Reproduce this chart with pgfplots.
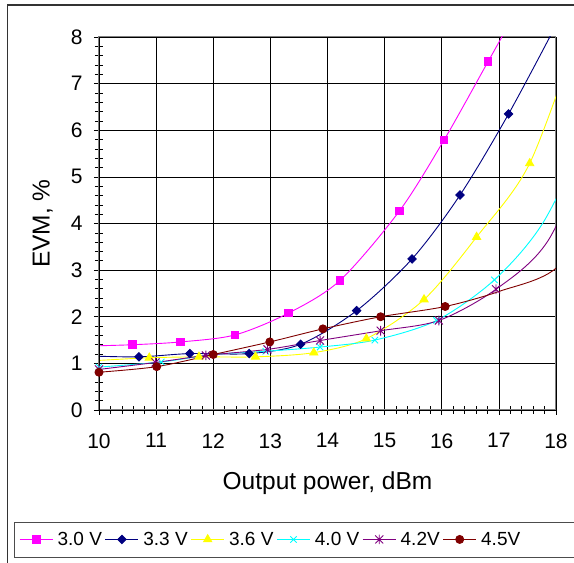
\documentclass[border=0pt]{standalone}
\usepackage{fontspec}
\setmainfont{Liberation Sans}
\usepackage{pgfplots}
\pgfplotsset{compat=1.18}
\definecolor{cA}{RGB}{255,0,255}
\definecolor{cB}{RGB}{0,0,128}
\definecolor{cC}{RGB}{255,255,0}
\definecolor{cD}{RGB}{0,255,255}
\definecolor{cE}{RGB}{128,0,128}
\definecolor{cF}{RGB}{128,0,0}
\pgfdeclareplotmark{xstar}{%
 \pgfpathmoveto{\pgfqpoint{-\pgfplotmarksize}{-\pgfplotmarksize}}\pgfpathlineto{\pgfqpoint{\pgfplotmarksize}{\pgfplotmarksize}}%
 \pgfpathmoveto{\pgfqpoint{-\pgfplotmarksize}{\pgfplotmarksize}}\pgfpathlineto{\pgfqpoint{\pgfplotmarksize}{-\pgfplotmarksize}}%
 \pgfpathmoveto{\pgfqpoint{0pt}{-1.2\pgfplotmarksize}}\pgfpathlineto{\pgfqpoint{0pt}{1.2\pgfplotmarksize}}%
 \pgfusepathqstroke}
\pgfdeclareplotmark{sqdiamond}{%
 \pgfpathmoveto{\pgfqpoint{0pt}{\pgfplotmarksize}}%
 \pgfpathlineto{\pgfqpoint{\pgfplotmarksize}{0pt}}%
 \pgfpathlineto{\pgfqpoint{0pt}{-\pgfplotmarksize}}%
 \pgfpathlineto{\pgfqpoint{-\pgfplotmarksize}{0pt}}%
 \pgfpathclose
 \pgfusepathqfillstroke}
\begin{document}
\begin{tikzpicture}
\useasboundingbox (0,0) rectangle (574pt,563pt);
\fill[white] (0,0) rectangle (574pt,563pt);
\draw[line width=1.2pt, black!80] (7.5pt,-5pt) |- (600pt,558pt);
\draw[line width=0.8pt, black!70] (14pt,6pt) rectangle (600pt,41pt);
\begin{axis}[
  at={(99pt,153pt)}, anchor=south west,
  scale only axis, width=457pt, height=373pt,
  xmin=10, xmax=18, ymin=0, ymax=8,
  xtick={10,...,18}, ytick={0,...,8},
  minor x tick num=4, minor y tick num=4,
  xtick pos=bottom, ytick pos=left,
  tick align=center,
  major tick length=10pt, minor tick length=8pt,
  tick style={black, line width=0.6pt},
  grid=major,
  major grid style={black, line width=0.6pt},
  axis line style={draw=gray, line width=1pt},
  /pgf/number format/assume math mode=true,
  ticklabel style={font=\fontsize{21}{24}\selectfont},
  xticklabel style={yshift=-15pt},
  yticklabel style={xshift=-8pt},
  xlabel={Output power, dBm},
  ylabel={EVM, \%},
  label style={font=\fontsize{24.5}{28}\selectfont},
  xlabel style={at={(axis description cs:0.5,-0.196)}, anchor=center},
  ylabel style={at={(axis description cs:-0.123,0.5)}, anchor=center, rotate=0},
  every axis plot/.append style={line width=0.9pt, smooth, tension=0.5},
  legend columns=6,
  legend style={draw=none, fill=none, at={(axis description cs:-0.175,-0.347)}, anchor=west,
    font=\fontsize{19}{22}\selectfont, inner sep=0pt, column sep=0pt,
    nodes={inner sep=0pt},
    /tikz/every odd column/.append style={column sep=4.5pt},
    /tikz/every even column/.append style={column sep=3pt}},
  legend image code/.code={\draw[mark indices={2}] plot coordinates {(0pt,0pt) (16.5pt,0pt) (33pt,0pt)};},
]
\addplot[cA, mark=square*, mark size=3.8pt, mark indices={1,2,3,4,5,6,7,8}] coordinates {
(9.75,1.37) (10.59,1.40) (11.43,1.46) (12.38,1.61) (13.32,2.08) (14.22,2.78) (15.26,4.27) (16.04,5.79) (16.81,7.47) (17.6,9.2)};
\addlegendentry{3.0 V}
\addplot[cB, mark=sqdiamond, mark size=4.2pt, mark indices={1,2,3,4,5,6,7,8}] coordinates {
(9.8,1.16) (10.70,1.14) (11.59,1.21) (12.63,1.21) (13.53,1.41) (14.51,2.13) (15.48,3.24) (16.32,4.61) (17.17,6.35) (18.02,8.3)};
\addlegendentry{3.3 V}
\addplot[cC, mark=triangle*, mark size=4.7pt, mark indices={1,2,3,4,5,6,7,8}] coordinates {
(9.95,1.06) (10.88,1.12) (11.75,1.14) (12.74,1.14) (13.76,1.23) (14.68,1.53) (15.69,2.37) (16.61,3.71) (17.54,5.29) (18.45,8.3)};
\addlegendentry{3.6 V}
\addplot[cD, mark=x, mark size=4.5pt, mark indices={0,1,2,3,4,5,6,7,8}] coordinates {
(10.0,0.92) (11.09,1.03) (12.0,1.19) (12.92,1.26) (13.87,1.35) (14.83,1.50) (15.91,1.92) (16.92,2.79) (17.78,4.03) (18.7,6.3)};
\addlegendentry{4.0 V}
\addplot[cE, mark=xstar, mark size=4pt, mark indices={0,1,2,3,4,5,6,7,8}] coordinates {
(10.0,0.87) (10.99,1.02) (11.87,1.17) (12.95,1.30) (13.87,1.49) (14.93,1.70) (15.95,1.92) (16.95,2.59) (17.86,3.63) (18.8,6.1)};
\addlegendentry{4.2V}
\addplot[cF, mark=*, mark size=4pt, mark indices={0,1,2,3,4,5,6,7}] coordinates {
(10.0,0.81) (11.01,0.93) (12.00,1.19) (12.99,1.46) (13.92,1.74) (14.93,2.00) (16.06,2.22) (17.02,2.55) (18.02,3.06) (18.9,4.6)};
\addlegendentry{4.5V}
\draw[black, line width=0.8pt] (rel axis cs:0,0) -- (rel axis cs:0,1);
\draw[black, line width=0.8pt] (rel axis cs:0,0) -- (rel axis cs:1,0);
\end{axis}
\end{tikzpicture}
\end{document}
